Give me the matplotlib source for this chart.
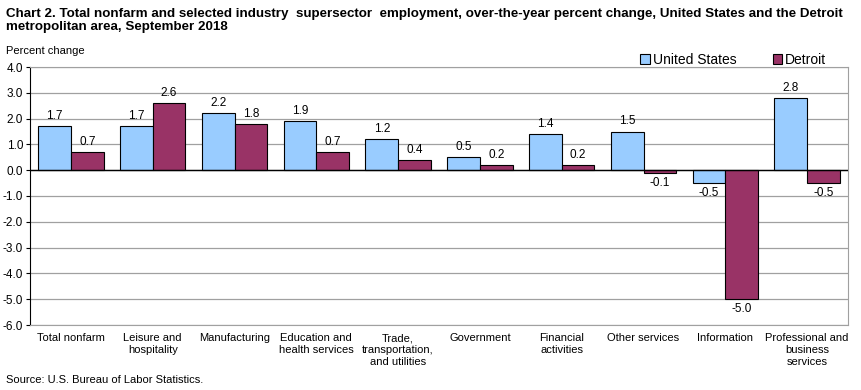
import numpy as np
from matplotlib import pyplot as plt

categories = ["Total nonfarm", "Leisure and\nhospitality", "Manufacturing",
              "Education and\nhealth services", "Trade,\ntransportation,\nand utilities",
              "Government", "Financial\nactivities", "Other services", "Information",
              "Professional and\nbusiness\nservices"]
us_values = [1.7, 1.7, 2.2, 1.9, 1.2, 0.5, 1.4, 1.5, -0.5, 2.8]
detroit_values = [0.7, 2.6, 1.8, 0.7, 0.4, 0.2, 0.2, -0.1, -5.0, -0.5]
y_ticks = [4.0, 3.0, 2.0, 1.0, 0.0, -1.0, -2.0, -3.0, -4.0, -5.0, -6.0]

plt.rcParams['font.family'] = ['Liberation Sans', 'DejaVu Sans']

fig = plt.figure(figsize=(8.61, 3.9), dpi=100)
ax = fig.add_axes([30 / 861, 65 / 390, 818 / 861, 258 / 390])

x = np.arange(len(categories))
w = 0.4
b1 = ax.bar(x - w / 2, us_values, w, color="#99CCFF", edgecolor="black", linewidth=0.8,
            label="United States", zorder=3)
b2 = ax.bar(x + w / 2, detroit_values, w, color="#993366", edgecolor="black", linewidth=0.8,
            label="Detroit", zorder=3)

for bars, vals in ((b1, us_values), (b2, detroit_values)):
    for rect, v in zip(bars, vals):
        cx = rect.get_x() + rect.get_width() / 2
        if v >= 0:
            ax.annotate(f"{v:.1f}", (cx, v), xytext=(0, 3), textcoords="offset points",
                        ha="center", va="bottom", fontsize=8.5)
        else:
            ax.annotate(f"{v:.1f}", (cx, v), xytext=(0, -3), textcoords="offset points",
                        ha="center", va="top", fontsize=8.5)

ax.set_xlim(-0.5, len(categories) - 0.5)
ax.set_ylim(-6, 4)
ax.set_yticks(y_ticks)
ax.set_yticklabels([f"{t:.1f}" for t in y_ticks], fontsize=8.5)
ax.set_xticks(x)
ax.set_xticklabels(categories, fontsize=8, va="top")
ax.tick_params(axis="x", length=0, pad=6)
ax.tick_params(axis="y", length=3, pad=2)
ax.grid(axis="y", color="#A0A0A0", linewidth=0.9, zorder=0)
ax.axhline(0, color="black", linewidth=1, zorder=4)
for s in ("top", "right", "bottom"):
    ax.spines[s].set_color("#A0A0A0")
ax.spines["left"].set_color("black")

ax.legend(loc="lower right", bbox_to_anchor=(0.975, 0.995), ncol=2, frameon=False,
          fontsize=10, handlelength=0.7, handleheight=0.7, handletextpad=0.2,
          columnspacing=2.6, borderaxespad=0.0, borderpad=0.1)

fig.text(6 / 861, 1 - 8 / 390,
         "Chart 2. Total nonfarm and selected industry  supersector  employment, over-the-year percent change, United States and the Detroit\nmetropolitan area, September 2018",
         fontsize=9.6, fontweight="bold", va="top", ha="left", linespacing=1.15)
fig.text(6 / 861, 1 - 51 / 390, "Percent change", fontsize=8, va="center", ha="left")
fig.text(6 / 861, 1 - 380 / 390, "Source: U.S. Bureau of Labor Statistics.", fontsize=8,
         va="center", ha="left")

fig.savefig("out.png", dpi=100)
